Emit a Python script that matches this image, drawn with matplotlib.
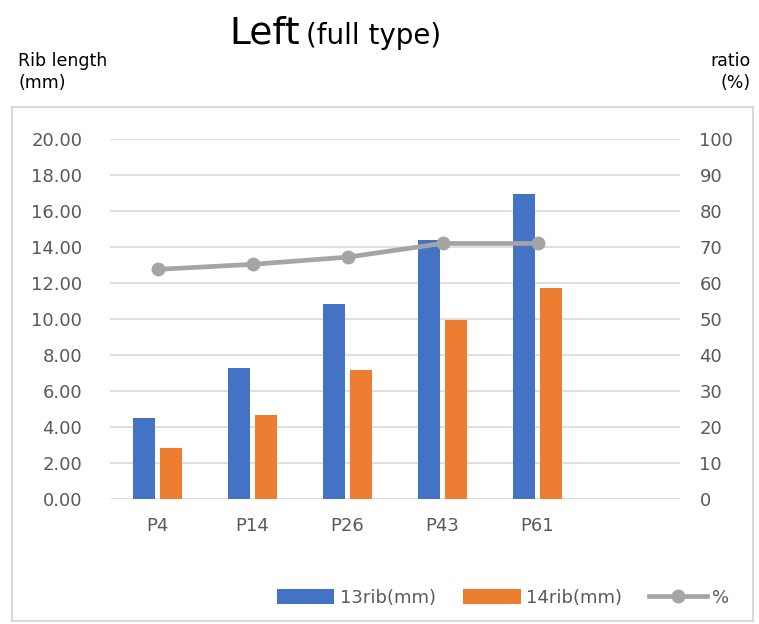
import matplotlib
matplotlib.use("Agg")
import matplotlib.pyplot as plt
import numpy as np
from matplotlib.patches import Rectangle

categories = ["P4", "P14", "P26", "P43", "P61"]
rib13 = [4.50, 7.28, 10.83, 14.39, 16.91]
rib14 = [2.80, 4.63, 7.13, 9.91, 11.69]
ratio = [63.7, 65.1, 67.1, 70.9, 70.9]

left_ticks = np.arange(0, 21, 2)
right_ticks = np.arange(0, 101, 10)

BLUE = "#4472C4"
ORANGE = "#ED7D31"
GRAY = "#A5A5A5"
TXT = "#595959"
GRID = "#D9D9D9"

W, H = 759, 624
fig = plt.figure(figsize=(W / 100, H / 100), dpi=100)

# outer chart frame
fig.patches.append(Rectangle((12 / W, 1 - 621 / H), 741 / W, 514 / H,
                             transform=fig.transFigure, fill=False,
                             edgecolor=GRID, linewidth=1.5))

ax = fig.add_axes([110 / W, 1 - 498.7 / H, 570 / W, 360 / H])
x = np.arange(len(categories))
bw = 0.228
off = 0.14
ax.bar(x - off, rib13, bw, color=BLUE, label="13rib(mm)", zorder=2)
ax.bar(x + off, rib14, bw, color=ORANGE, label="14rib(mm)", zorder=2)

ax.set_xlim(-0.5, 5.5)
ax.set_ylim(0, 20)
ax.set_yticks(left_ticks)
ax.set_yticklabels([f"{v:.2f}" for v in left_ticks])
ax.set_xticks(x)
ax.set_xticklabels(categories)
ax.grid(axis="y", color=GRID, linewidth=1.2, zorder=0)
ax.set_axisbelow(True)
for s in ax.spines.values():
    s.set_visible(False)
ax.tick_params(axis="y", length=0, pad=20, labelsize=13, labelcolor=TXT)
ax.tick_params(axis="x", length=0, pad=13, labelsize=13, labelcolor=TXT)

ax2 = ax.twinx()
ax2.plot(x, ratio, color=GRAY, linewidth=3.4, marker="o", markersize=9,
         label="%", zorder=3)
ax2.set_ylim(0, 100)
ax2.set_yticks(right_ticks)
for s in ax2.spines.values():
    s.set_visible(False)
ax2.tick_params(axis="y", length=0, pad=14, labelsize=13, labelcolor=TXT)

# titles
fig.text(300 / W, 1 - 44 / H, "Left", fontsize=27, ha="right", va="baseline")
fig.text(306 / W, 1 - 44 / H, "(full type)", fontsize=20, ha="left", va="baseline")
fig.text(18 / W, 1 - 66 / H, "Rib length", fontsize=12.5, ha="left", va="baseline")
fig.text(18 / W, 1 - 88 / H, "(mm)", fontsize=12.5, ha="left", va="baseline")
fig.text(751 / W, 1 - 66 / H, "ratio", fontsize=12.5, ha="right", va="baseline")
fig.text(751 / W, 1 - 88 / H, "(%)", fontsize=12.5, ha="right", va="baseline")

h1, l1 = ax.get_legend_handles_labels()
h2, l2 = ax2.get_legend_handles_labels()
leg = fig.legend(h1 + h2, l1 + l2, loc="center", bbox_to_anchor=(503 / W, 1 - 598 / H),
                 ncol=3, frameon=False, fontsize=13, handlelength=3.2,
                 handleheight=0.9, columnspacing=1.5, handletextpad=0.3)
for t in leg.get_texts():
    t.set_color(TXT)

fig.savefig("out.png", dpi=100)
